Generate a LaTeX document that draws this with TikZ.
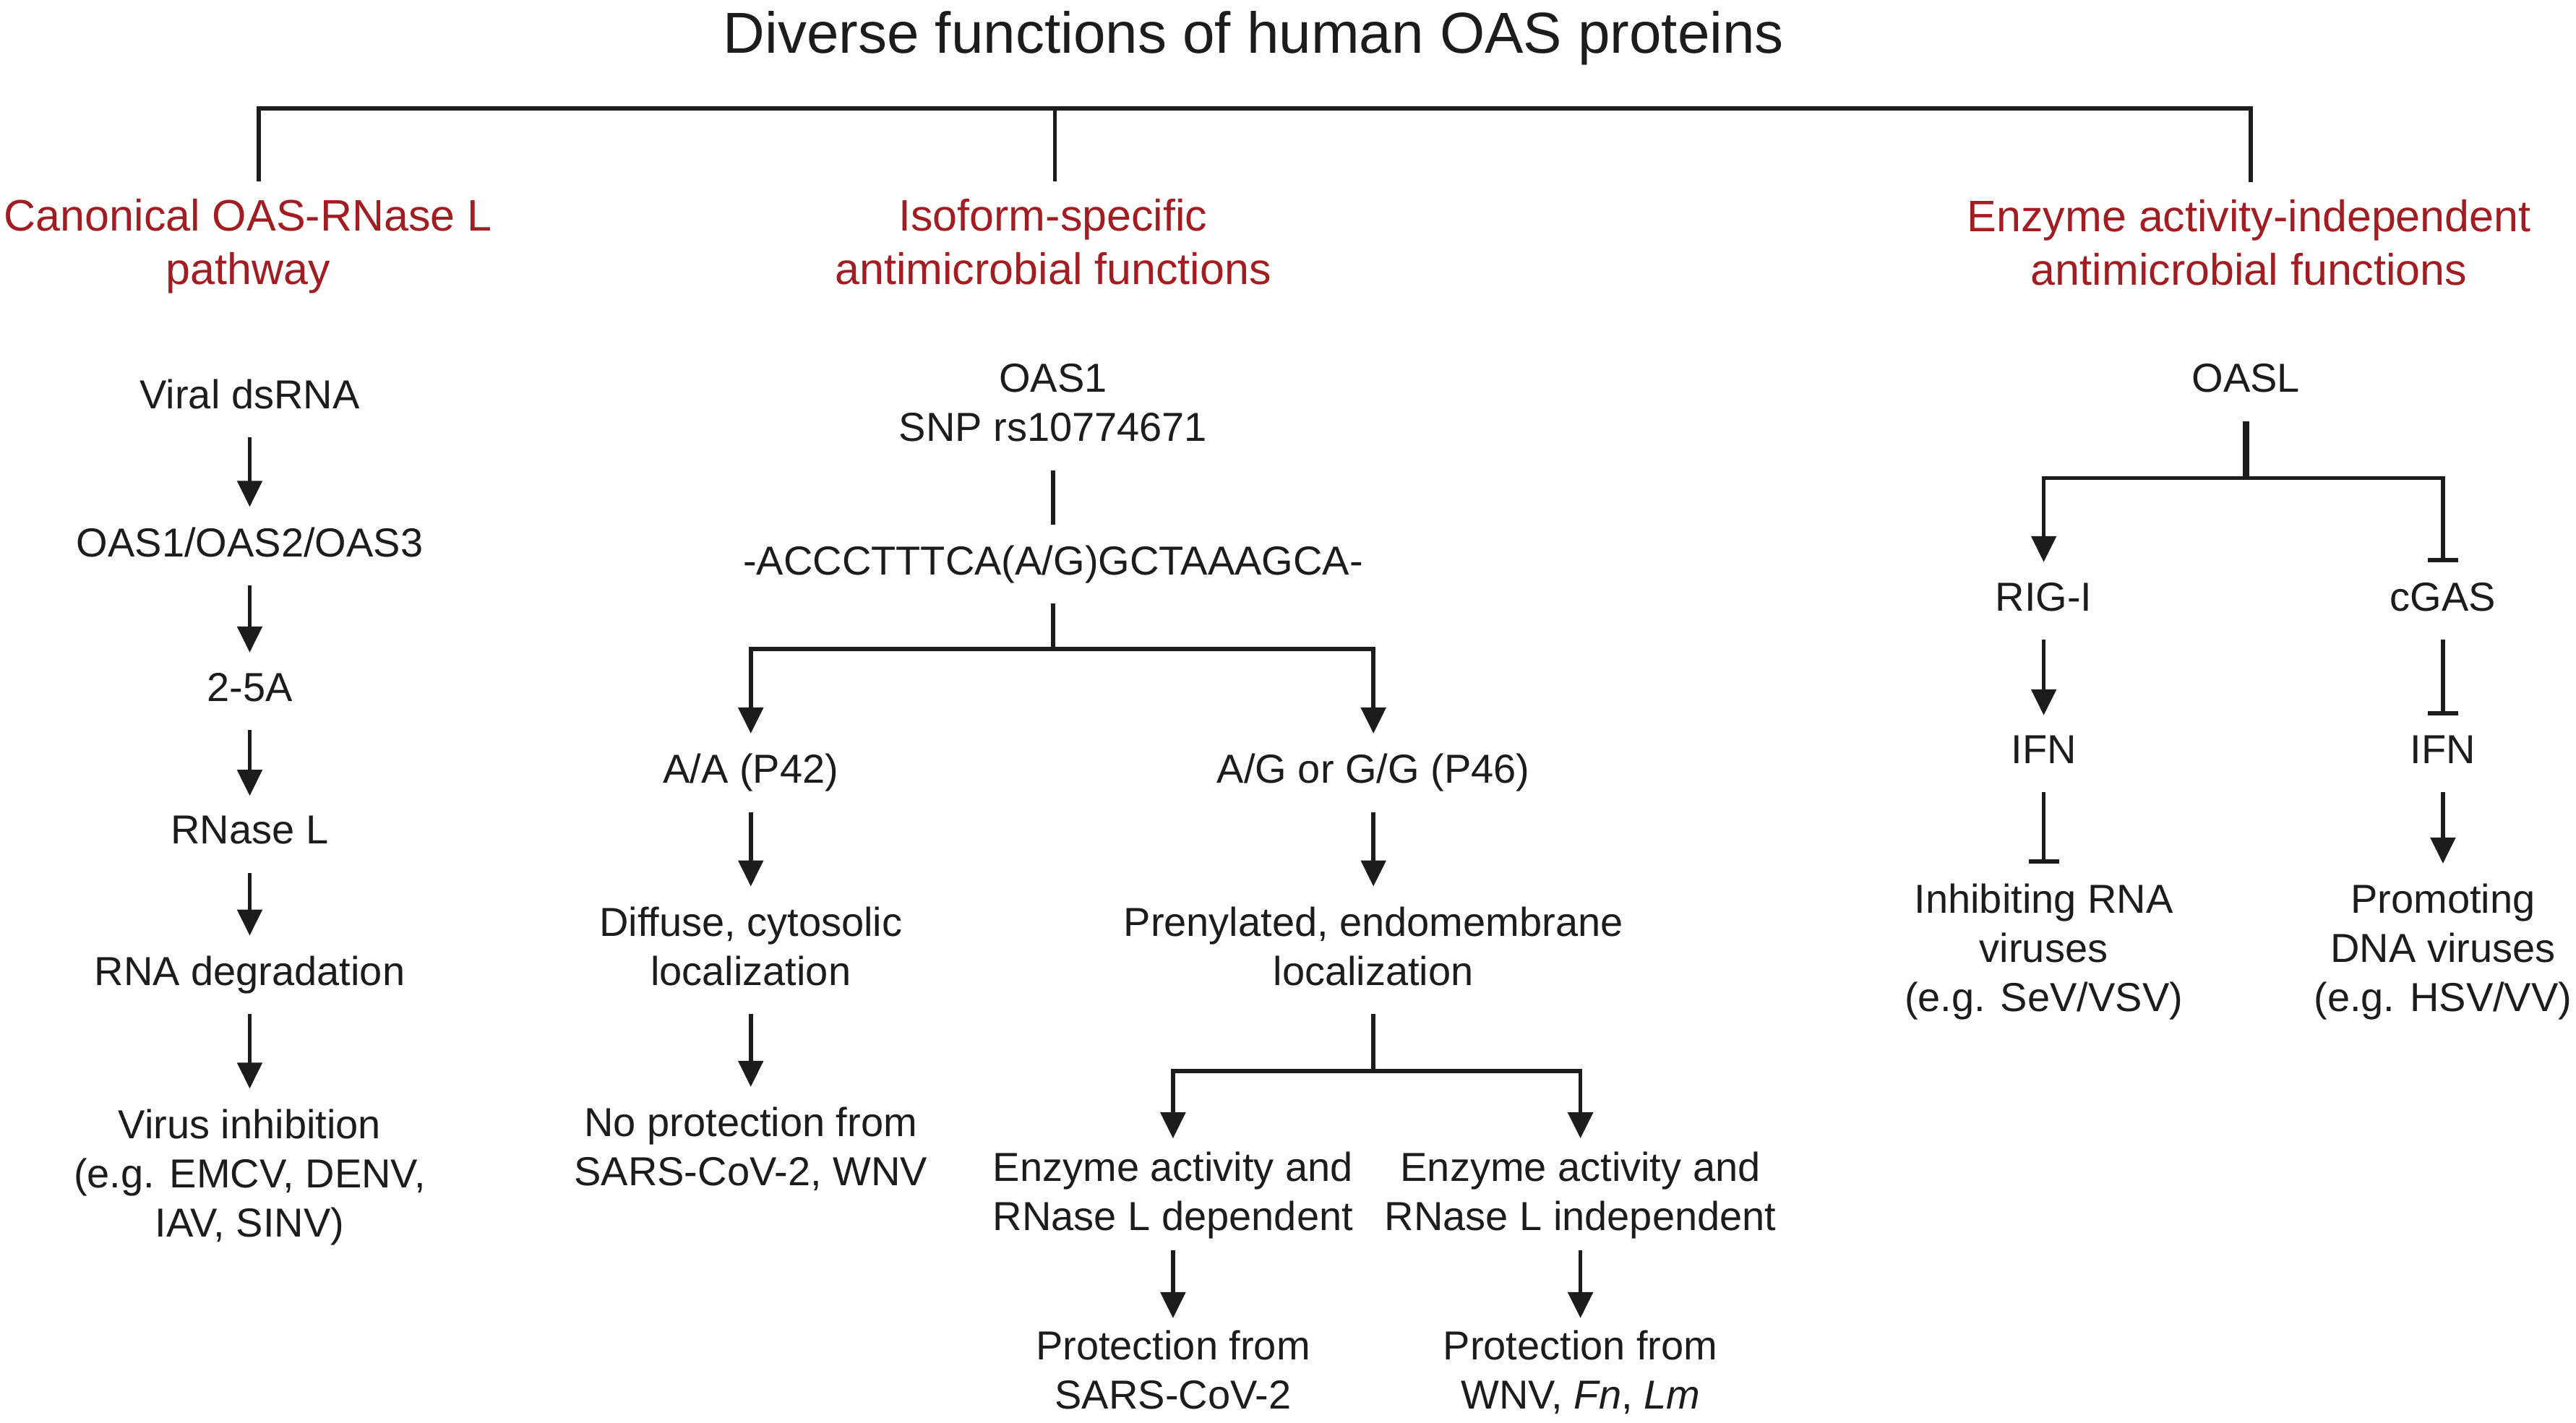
\documentclass[tikz,border=0pt]{standalone}
\usepackage{fontspec}
\setmainfont{Liberation Sans}
\usetikzlibrary{arrows.meta}
\definecolor{hred}{RGB}{162,29,33}
\definecolor{ink}{RGB}{28,28,28}
\begin{document}
\begin{tikzpicture}[x=2.273pt,y=-2.273pt,
  every node/.style={inner xsep=0pt, inner ysep=28pt, align=center, text=ink, anchor=base},
  body/.style={font=\fontsize{56}{68}\selectfont, execute at end node={\vphantom{g}}},
  head/.style={font=\fontsize{61}{74}\selectfont, text=hred, inner ysep=24pt},
  ttl/.style={font=\fontsize{80}{96}\selectfont, inner ysep=0pt},
  ln/.style={draw=ink, line width=5.5pt},
  arr/.style={ln, -{Triangle[width=34pt,length=36pt]}},
  inh/.style={ln, -{Bar[width=42pt]}},
]
\path[fill=white,use as bounding box] (0,0) rectangle (1568,866);

% title and headings (base = last line)
\node[ttl] (title) at (763,32.5) {Diverse functions of human OAS proteins};
\node[head] (h1) at (151,173) {Canonical OAS-RNase L\\pathway};
\node[head] (h2) at (641,173) {Isoform-specific\\antimicrobial functions};
\node[head] (h3) at (1369,173.5) {Enzyme activity-independent\\antimicrobial functions};
\coordinate (b1) at (157.5,66);
\coordinate (b2) at (642,66);
\coordinate (b3) at (1370,66);
\draw[ln] (b1 |- h1.north) -- (b1) -- (b3) -- (b3 |- h3.north);
\draw[ln] (b2) -- (b2 |- h2.north);

% left column
\node[body] (v1) at (152,248.8) {Viral dsRNA};
\node[body] (v2) at (152,338.8) {OAS1/OAS2/OAS3};
\node[body] (v3) at (152,426.8) {2-5A};
\node[body] (v4) at (152,513.8) {RNase L};
\node[body] (v5) at (152,599.8) {RNA degradation};
\node[body] (v6) at (152,752.8) {Virus inhibition\\(e.g. EMCV, DENV,\\IAV, SINV)};
\draw[arr] (v1.south) -- (v2.north);
\draw[arr] (v2.south) -- (v3.north);
\draw[arr] (v3.south) -- (v4.north);
\draw[arr] (v4.south) -- (v5.north);
\draw[arr] (v5.south) -- (v6.north);

% middle column
\node[body] (m1) at (641,268.8) {OAS1\\SNP rs10774671};
\node[body] (m2) at (641,349.8) {-ACCCTTTCA(A/G)GCTAAAGCA-};
\node[body] (m3) at (457,476.8) {A/A (P42)};
\node[body] (m4) at (836,476.8) {A/G or G/G (P46)};
\node[body] (m5) at (457,599.8) {Diffuse, cytosolic\\localization};
\node[body] (m6) at (836,599.8) {Prenylated, endomembrane\\localization};
\node[body] (m7) at (457,721.8) {No protection from\\SARS-CoV-2, WNV};
\node[body] (m8) at (714,748.8) {Enzyme activity and\\RNase L dependent};
\node[body] (m9) at (962,748.8) {Enzyme activity and\\RNase L independent};
\node[body] (m10) at (714,857.8) {Protection from\\SARS-CoV-2};
\node[body] (m11) at (962,857.8) {Protection from\\WNV, \textit{Fn}, \textit{Lm}};
\coordinate (j1) at (641,395);
\coordinate (j2) at (836,652);
\draw[ln] (m1.south) -- (m2.north);
\draw[ln] (m2.south) -- (j1);
\draw[arr] (j1) -| (m3.north);
\draw[arr] (j1) -| (m4.north);
\draw[arr] (m3.south) -- (m5.north);
\draw[arr] (m4.south) -- (m6.north);
\draw[arr] (m5.south) -- (m7.north);
\draw[ln] (m6.south) -- (j2);
\draw[arr, shorten >=-10pt] (j2) -| (m8.north);
\draw[arr, shorten >=-10pt] (j2) -| (m9.north);
\draw[arr, shorten <=-12pt, shorten >=-11pt] (m8.south) -- (m10.north);
\draw[arr, shorten <=-12pt, shorten >=-11pt] (m9.south) -- (m11.north);

% right column
\node[body] (r1) at (1367,238.8) {OASL};
\node[body] (r2) at (1244,371.8) {RIG-I};
\node[body] (r3) at (1487,371.8) {cGAS};
\node[body] (r4) at (1244,464.8) {IFN};
\node[body] (r5) at (1487,464.8) {IFN};
\node[body] (r6) at (1244,615.8) {Inhibiting RNA\\viruses\\(e.g. SeV/VSV)};
\node[body] (r7) at (1487,615.8) {Promoting\\DNA viruses\\(e.g. HSV/VV)};
\coordinate (j3) at (1367,291);
\draw[ln, line width=9pt] (r1.south) -- (j3);
\draw[arr] (j3) -| (r2.north);
\draw[inh] (j3) -| (r3.north);
\draw[arr] (r2.south) -- (r4.north);
\draw[inh] (r3.south) -- (r5.north);
\draw[inh] (r4.south) -- (r6.north);
\draw[arr] (r5.south) -- (r7.north);
\end{tikzpicture}
\end{document}
